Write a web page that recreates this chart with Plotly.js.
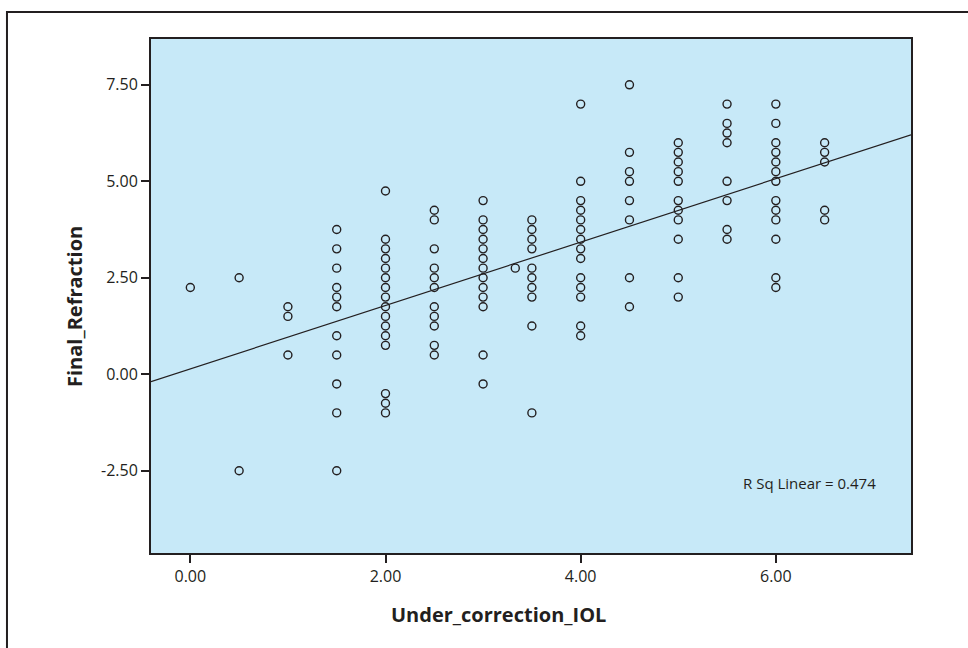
<!DOCTYPE html>
<html>
<head>
<meta charset="utf-8">
<script src="https://cdn.plot.ly/plotly-3.0.1.min.js"></script>
<style>
  html, body { margin: 0; padding: 0; background: #ffffff; }
  #chart { width: 968px; height: 648px; }
</style>
</head>
<body>
<div id="chart"></div>
<script>
// Under_correction_IOL value of each column of points
const underCorrection = [0.0, 0.5, 1.0, 1.5, 2.0, 2.5, 3.0, 3.33, 3.5, 4.0, 4.5, 5.0, 5.5, 6.0, 6.5];
// Final_Refraction values observed at each Under_correction_IOL value
const refrAt0_0 = [2.25];
const refrAt0_5 = [2.5, -2.5];
const refrAt1_0 = [1.75, 1.5, 0.5];
const refrAt1_5 = [3.75, 3.25, 2.75, 2.25, 2.0, 1.75, 1.0, 0.5, -0.25, -1.0, -2.5];
const refrAt2_0 = [4.75, 3.5, 3.25, 3.0, 2.75, 2.5, 2.25, 2.0, 1.75, 1.5, 1.25, 1.0, 0.75, -0.5, -0.75, -1.0];
const refrAt2_5 = [4.25, 4.0, 3.25, 2.75, 2.5, 2.25, 1.75, 1.5, 1.25, 0.75, 0.5];
const refrAt3_0 = [4.5, 4.0, 3.75, 3.5, 3.25, 3.0, 2.75, 2.5, 2.25, 2.0, 1.75, 0.5, -0.25];
const refrAt3_33 = [2.75];
const refrAt3_5 = [4.0, 3.75, 3.5, 3.25, 2.75, 2.5, 2.25, 2.0, 1.25, -1.0];
const refrAt4_0 = [7.0, 5.0, 4.5, 4.25, 4.0, 3.75, 3.5, 3.25, 3.0, 2.5, 2.25, 2.0, 1.25, 1.0];
const refrAt4_5 = [7.5, 5.75, 5.25, 5.0, 4.5, 4.0, 2.5, 1.75];
const refrAt5_0 = [6.0, 5.75, 5.5, 5.25, 5.0, 4.5, 4.25, 4.0, 3.5, 2.5, 2.0];
const refrAt5_5 = [7.0, 6.5, 6.25, 6.0, 5.0, 4.5, 3.75, 3.5];
const refrAt6_0 = [7.0, 6.5, 6.0, 5.75, 5.5, 5.25, 5.0, 4.5, 4.25, 4.0, 3.5, 2.5, 2.25];
const refrAt6_5 = [6.0, 5.75, 5.5, 4.25, 4.0];

const refrColumns = [refrAt0_0, refrAt0_5, refrAt1_0, refrAt1_5, refrAt2_0, refrAt2_5, refrAt3_0,
  refrAt3_33, refrAt3_5, refrAt4_0, refrAt4_5, refrAt5_0, refrAt5_5, refrAt6_0, refrAt6_5];

const xTickVals = [0, 2, 4, 6];
const xTickText = ["0.00", "2.00", "4.00", "6.00"];
const yTickVals = [-2.5, 0, 2.5, 5, 7.5];
const yTickText = ["-2.50", "0.00", "2.50", "5.00", "7.50"];
const xTitle = "Under_correction_IOL";
const yTitle = "Final_Refraction";
const rSqLabel = "R Sq Linear = 0.474";

const xs = [], ys = [];
underCorrection.forEach((xv, i) => refrColumns[i].forEach(yv => { xs.push(xv); ys.push(yv); }));

// least-squares fit line
const n = xs.length;
const mx = xs.reduce((a, b) => a + b, 0) / n;
const my = ys.reduce((a, b) => a + b, 0) / n;
let sxy = 0, sxx = 0;
for (let i = 0; i < n; i++) { sxy += (xs[i] - mx) * (ys[i] - my); sxx += (xs[i] - mx) ** 2; }
const slope = sxy / sxx;
const intercept = my - slope * mx;

const xRange = [-0.403, 7.385];
const yRange = [-4.63, 8.687];

const ink = '#231f20';
const fontFam = '"Open Sans", Lato, sans-serif';

const traces = [
  {
    x: xs, y: ys, type: 'scatter', mode: 'markers',
    marker: { symbol: 'circle-open', size: 8, color: ink, line: { width: 1.4, color: ink } },
    hoverinfo: 'x+y', showlegend: false
  },
  {
    x: xRange, y: xRange.map(v => intercept + slope * v), type: 'scatter', mode: 'lines',
    line: { color: ink, width: 1.2 }, hoverinfo: 'skip', showlegend: false
  }
];

const layout = {
  width: 968, height: 648,
  margin: { l: 151, r: 57, t: 39, b: 95, pad: 0 },
  paper_bgcolor: '#ffffff',
  plot_bgcolor: '#c7e9f8',
  font: { family: fontFam, color: ink, size: 16 },
  xaxis: {
    range: xRange, tickvals: xTickVals, ticktext: xTickText,
    showgrid: false, zeroline: false,
    showline: true, linecolor: ink, linewidth: 2, mirror: true,
    ticks: 'outside', ticklen: 8, tickwidth: 2, tickcolor: ink,
    tickfont: { family: fontFam, size: 16, color: ink }
  },
  yaxis: {
    range: yRange, tickvals: yTickVals, ticktext: yTickText,
    showgrid: false, zeroline: false,
    showline: true, linecolor: ink, linewidth: 2, mirror: true,
    ticks: 'outside', ticklen: 8, tickwidth: 2, tickcolor: ink,
    tickfont: { family: fontFam, size: 16, color: ink }
  },
  shapes: [
    { type: 'rect', xref: 'paper', yref: 'paper', x0: -0.1895, x1: 1.3, y0: -0.4, y1: 1.0525,
      line: { color: ink, width: 2 }, fillcolor: 'rgba(0,0,0,0)', layer: 'below' }
  ],
  annotations: [
    { text: rSqLabel, xref: 'paper', yref: 'paper', x: 0.9566, y: 0.1368,
      xanchor: 'right', yanchor: 'middle', showarrow: false,
      font: { family: fontFam, size: 15, color: ink } },
    { text: '<b>' + xTitle + '</b>', xref: 'paper', yref: 'paper', x: 0.4566, y: -0.1205,
      xanchor: 'center', yanchor: 'middle', showarrow: false,
      font: { family: fontFam, size: 20, color: ink } },
    { text: '<b>' + yTitle + '</b>', xref: 'paper', yref: 'paper', x: -0.1, y: 0.4786,
      xanchor: 'center', yanchor: 'middle', textangle: -90, showarrow: false,
      font: { family: fontFam, size: 20, color: ink } }
  ]
};

Plotly.newPlot('chart', traces, layout, { displayModeBar: false, staticPlot: true });
</script>
</body>
</html>
